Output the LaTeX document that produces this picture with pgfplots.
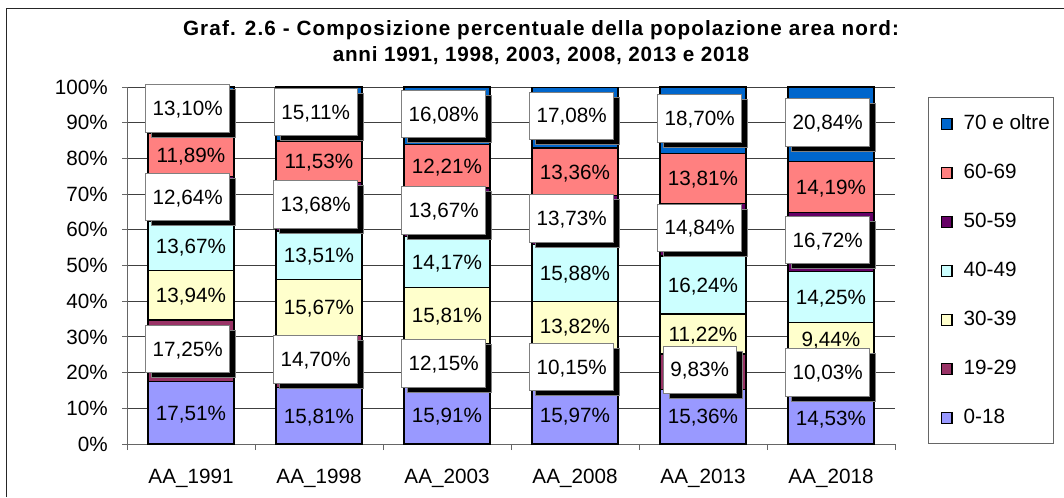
\documentclass[border=0pt]{standalone}
\usepackage{fontspec}
\setmainfont{Liberation Sans}
\usepackage{pgfplots}
\pgfplotsset{compat=1.18}
\usetikzlibrary{shadows}
\definecolor{c018}{HTML}{9999FF}
\definecolor{c1929}{HTML}{993366}
\definecolor{c3039}{HTML}{FFFFCC}
\definecolor{c4049}{HTML}{CCFFFF}
\definecolor{c5059}{HTML}{660066}
\definecolor{c6069}{HTML}{FF8080}
\definecolor{c70}{HTML}{0066CC}
\newcommand\lab{\fontsize{15.5}{18}\selectfont}
\pgfplotsset{
  midlabel/.style={
    nodes near coords={\pgfmathprintnumber[fixed,fixed zerofill,precision=2,use comma]{\pgfplotspointmeta}\%},
    every node near coord/.append style={anchor=center, font=\lab, text=black, inner sep=0pt, text height=11pt, text depth=0pt, draw=none, fill=none},
  },
  boxlabel/.style={
    every node near coord/.append style={fill=white, draw=black!50, line width=0.6pt, minimum height=35.5pt, inner xsep=5.25pt,
      drop shadow={shadow xshift=4.5pt, shadow yshift=-3.75pt, fill=black, opacity=1}, xshift=-2.5pt, yshift=1.5pt}},
  barst/.style={draw=black, line width=0.9pt},
}
\begin{document}
\begin{tikzpicture}[x=0.75pt,y=0.75pt]
\draw[line width=0.75pt, black!85] (6,0) -- (6,488) -- (1064,488);
\node[font={\fontsize{15.5}{18}\selectfont\bfseries\addfontfeatures{LetterSpace=5.5}}, anchor=base, inner sep=0pt] at (541,461) {Graf. 2.6 - Composizione percentuale della popolazione area nord:};
\node[font={\fontsize{15.5}{18}\selectfont\bfseries\addfontfeatures{LetterSpace=3.5}}, anchor=base, inner sep=0pt] at (541,435) {anni 1991, 1998, 2003, 2008, 2013 e 2018};
\begin{axis}[
  at={(95.25pt,39.75pt)}, anchor=south west,
  width=576pt, height=267.75pt, scale only axis,
  set layers, mark layer=axis foreground,
  ybar stacked, bar width=64.5pt,
  xmin=-0.5, xmax=5.5, ymin=0, ymax=100.02,
  axis x line*=bottom, axis y line*=left,
  axis line style={black!60, line width=0.75pt},
  xtick={0,...,5},
  xticklabels={AA\_1991,AA\_1998,AA\_2003,AA\_2008,AA\_2013,AA\_2018},
  major x tick style={draw=none},
  minor xtick={-0.5,0.5,...,5.5},
  minor x tick style={black!60, line width=0.75pt},
  tick align=outside,
  ytick={0,10,...,100},
  yticklabels={0\%,10\%,20\%,30\%,40\%,50\%,60\%,70\%,80\%,90\%,100\%},
  y tick style={black!60, line width=0.75pt},
  ymajorgrids, major grid style={black!75, line width=0.75pt},
  major tick length=3.75pt, minor tick length=4.5pt,
  x tick label style={font=\lab, anchor=north, inner sep=0pt, yshift=-15pt},
  y tick label style={font=\lab, anchor=east, inner sep=0pt, xshift=-10.5pt},
  /pgf/number format/assume math mode=true,
  every axis plot/.append style={legend image code/.code={\path (-6pt,0) (0pt,0pt);\draw[##1, draw=black, line width=0.9pt] (0pt,-4.1pt) rectangle (8.2pt,4.1pt);}},
  legend style={at={(1.043,0.971)}, anchor=north west, draw=black!60, line width=0.75pt, font=\lab,
    inner xsep=3pt, inner ysep=13pt, row sep=23.75pt,
    nodes={inner sep=0pt, text height=11pt, text depth=2pt, anchor=west},
    /tikz/every odd column/.append style={column sep=8.25pt}},
  legend cell align=left,
  reverse legend,
]
\addplot[fill=c018, barst, midlabel] coordinates {(0,17.51) (1,15.81) (2,15.91) (3,15.97) (4,15.36) (5,14.53)};
\addlegendentry{0-18}
\addplot[fill=c1929, barst, midlabel, boxlabel] coordinates {(0,17.25) (1,14.70) (2,12.15) (3,10.15) (4,9.83) (5,10.03)};
\addlegendentry{19-29}
\addplot[fill=c3039, barst, midlabel] coordinates {(0,13.94) (1,15.67) (2,15.81) (3,13.82) (4,11.22) (5,9.44)};
\addlegendentry{30-39}
\addplot[fill=c4049, barst, midlabel] coordinates {(0,13.67) (1,13.51) (2,14.17) (3,15.88) (4,16.24) (5,14.25)};
\addlegendentry{40-49}
\addplot[fill=c5059, barst, midlabel, boxlabel] coordinates {(0,12.64) (1,13.68) (2,13.67) (3,13.73) (4,14.84) (5,16.72)};
\addlegendentry{50-59}
\addplot[fill=c6069, barst, midlabel] coordinates {(0,11.89) (1,11.53) (2,12.21) (3,13.36) (4,13.81) (5,14.19)};
\addlegendentry{60-69}
\addplot[fill=c70, barst, midlabel, boxlabel] coordinates {(0,13.10) (1,15.11) (2,16.08) (3,17.08) (4,18.70) (5,20.84)};
\addlegendentry{70 e oltre}
\end{axis}
\pgfresetboundingbox
\useasboundingbox (0,0) rectangle (1064,497);
\end{tikzpicture}
\end{document}
